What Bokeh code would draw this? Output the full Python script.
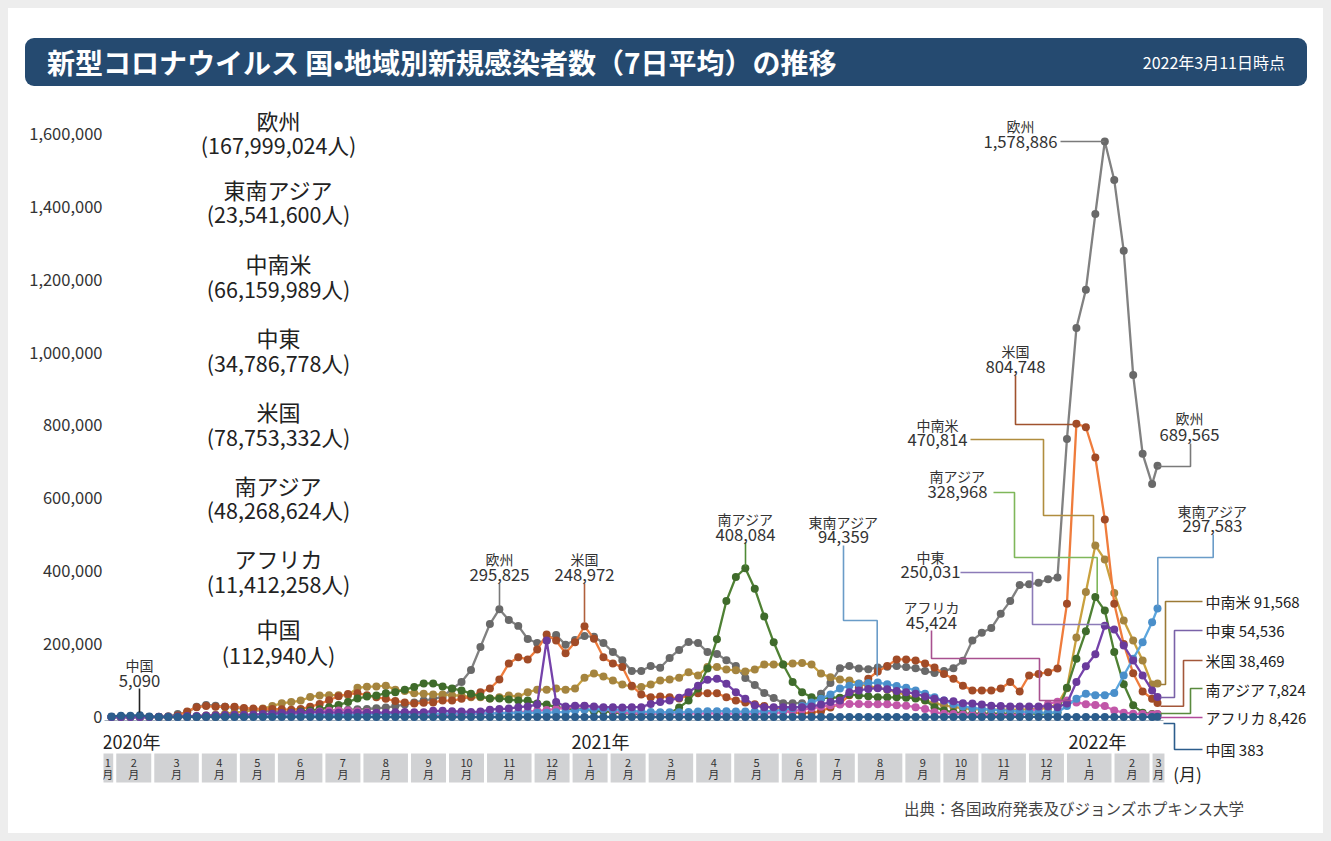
import pandas as pd
from bokeh.plotting import figure
from bokeh.models import Range1d, FixedTicker, Label, NumeralTickFormatter, Div
from bokeh.layouts import column
from bokeh.embed import file_html
from bokeh.resources import INLINE
from bokeh.core.properties import value

FONT = "Noto Sans CJK JP"

# ---------------- data (7-day average new cases, thousands of persons) ----------------
# weekly points (Mondays) from 2020-01-27 to 2022-03-07, plus the latest value on 2022-03-11
dates = list(pd.date_range("2020-01-27", "2022-03-07", freq="W-MON")) + [pd.Timestamp("2022-03-11")]

europe_k = [0, 0, 0, 0, 0.2,
            0.5, 2, 8, 13, 28,
            33, 31, 28, 26,
            22, 19, 17, 16,
            15, 15, 16, 17, 17,
            18, 19, 20, 21,
            22, 24, 26, 30, 34,
            40, 45, 50, 55,
            77, 96, 129, 192,
            255, 295.825, 266, 250, 214,
            203, 210, 225, 198,
            211, 222, 220, 203,
            178, 156, 126, 126,
            140, 135, 162, 184, 206,
            203, 178, 173, 156,
            140, 107, 88, 66, 52,
            38, 38, 38, 33,
            64, 93, 134, 140,
            133, 131, 136, 138, 140,
            137, 134, 126, 121,
            126, 134, 154, 210,
            231, 244, 283, 318, 362,
            364, 368, 378, 383,
            763, 1067, 1172, 1380, 1578.886,
            1473, 1279, 938, 722,
            639,
            689.565]

usa_k = [0, 0, 0, 0, 0,
         0.1, 0.5, 4, 15, 27,
         30, 28, 28, 28,
         25, 23, 22, 22,
         21, 20, 22, 28, 36,
         46, 57, 63, 65,
         60, 54, 50, 44, 40,
         37, 39, 40, 45,
         45, 50, 56, 68,
         78, 103, 147, 164, 158,
         185, 226, 210, 175,
         205, 248.972, 215, 164,
         147, 137, 86, 62,
         54, 56, 54, 51, 59,
         65, 65, 65, 54,
         45, 40, 35, 30, 25,
         18, 13, 10, 12,
         16, 26, 36, 60,
         80, 105, 125, 140, 158,
         158, 155, 147, 136,
         118, 105, 86, 73,
         73, 73, 78, 96, 70,
         114, 118, 123, 133,
         311, 804.748, 795, 712, 542,
         311, 200, 120, 70,
         50,
         38.469]

latam_k = [0, 0, 0, 0, 0,
           0, 0, 0.2, 1, 2,
           4, 6, 9, 12,
           15, 19, 23, 30,
           38, 41, 45, 55, 59,
           60, 60, 60, 80,
           83, 84, 86, 75, 71,
           65, 64, 62, 62,
           59, 59, 54, 54,
           51, 54, 59, 56, 68,
           75, 75, 78, 75,
           78, 108, 119, 111,
           100, 89, 84, 82,
           89, 100, 103, 108, 123,
           114, 137, 137, 130,
           128, 125, 130, 144, 144,
           144, 147, 148, 144,
           119, 109, 103, 100,
           92, 85, 80, 75, 68,
           60, 52, 45, 38,
           32, 28, 24, 22,
           20, 20, 20, 20, 20,
           21, 22, 25, 35,
           79, 218, 343, 470.814, 432,
           340, 265, 210, 155,
           89,
           91.568]

south_asia_k = [0, 0, 0, 0, 0,
                0, 0, 0, 0.1, 0.3,
                0.7, 1, 1.5, 2,
                3, 4, 5.5, 7,
                9, 12, 15, 18, 21,
                27, 33, 41, 51,
                56, 59, 65, 68, 75,
                82, 92, 92, 84,
                78, 73, 64, 56,
                51, 51, 48, 45, 45,
                37, 34, 27, 24,
                21, 21, 16, 16,
                13, 10, 9.6, 7,
                10, 10, 10, 26, 45,
                78, 133, 213, 318,
                384, 408.084, 352, 276, 205,
                144, 96, 68, 54,
                51, 54, 53, 62,
                59, 57, 54, 54, 54,
                53, 51, 46, 27,
                18, 13, 10, 9,
                9, 9, 9, 9, 9,
                9, 9, 10, 12,
                80, 160, 235, 328.968, 292,
                178, 90, 32, 12,
                8,
                7.824]

mideast_k = [0, 0, 0, 0, 0,
             0.5, 1, 1.5, 2.5, 3,
             4, 5, 5.5, 6,
             6, 7, 8, 9,
             11, 12, 13, 13, 13,
             12, 12, 12, 12,
             12, 12, 12, 13, 14,
             13, 13, 17, 17,
             16, 15, 14, 15,
             20, 22, 23, 27, 29,
             34, 210, 41, 29,
             31, 31, 29, 27,
             27, 26, 27, 27,
             36, 41, 45, 53, 68,
             86, 102, 105, 91,
             68, 50, 32, 27, 27,
             27, 27, 27, 29,
             34, 41, 45, 68,
             73, 77, 79, 76, 71,
             68, 64, 56, 50,
             45, 43, 38, 37,
             34, 31, 30, 29, 29,
             29, 29, 29, 27,
             37, 96, 139, 172, 250.031,
             240, 196, 155, 114,
             73,
             54.536]

se_asia_k = [0, 0, 0, 0, 0,
             0, 0.1, 0.3, 0.8, 1.5,
             2, 2, 2, 2,
             2.5, 2.5, 3, 3,
             3.5, 4, 4, 4.5, 5,
             5, 5, 6, 6,
             7, 8, 8, 8, 8,
             9, 9, 9, 9,
             10, 10, 10, 10,
             10, 10, 11, 11, 11,
             12, 12, 13, 14,
             18, 20, 21, 22,
             21, 19, 17, 15,
             14, 13, 13, 13, 14,
             15, 16, 16, 16,
             15, 15, 15, 16, 17,
             20, 24, 30, 40,
             50, 62, 78, 86,
             91, 93, 94.359, 90, 85,
             80, 73, 64, 54,
             45, 36, 29, 25,
             22, 20, 18, 17, 15,
             13, 12, 12, 13,
             30, 50, 64, 60, 60,
             66, 114, 160, 205,
             260,
             297.583]

africa_k = [0, 0, 0, 0, 0,
            0, 0, 0.1, 0.3, 0.8,
            1, 1.5, 2, 2.5,
            3, 3.5, 4, 5,
            6, 8, 10, 13, 15,
            17, 18, 18, 16,
            14, 12, 10, 8, 7,
            7, 6, 6, 6,
            6, 7, 8, 9,
            10, 11, 12, 13, 15,
            17, 19, 22, 25,
            28, 30, 27, 22,
            17, 13, 11, 10,
            10, 10, 10, 10, 10,
            10, 10, 10, 9,
            9, 9, 9, 10, 11,
            13, 16, 20, 24,
            28, 32, 34, 36,
            36, 35, 35, 35, 32,
            31, 27, 22, 13,
            9, 8, 7, 6,
            6, 5, 5, 5, 7,
            12, 25, 36, 42,
            45.424, 40, 35, 33, 30,
            18, 12, 9, 8,
            7,
            8.426]

china_k = [1.5, 3.5, 3.6, 5.09, 1.2,
           0.3, 0.05, 0.03, 0.08, 0.05,
           0.08, 0.05, 0.02, 0.01,
           0.01, 0.01, 0.01, 0.01,
           0.01, 0.03, 0.02, 0.02, 0.01,
           0.01, 0.02, 0.05, 0.06,
           0.04, 0.03, 0.02, 0.02, 0.01,
           0.01, 0.01, 0.01, 0.01,
           0.02, 0.02, 0.02, 0.02,
           0.02, 0.02, 0.02, 0.02, 0.02,
           0.02, 0.02, 0.02, 0.03,
           0.05, 0.1, 0.12, 0.08,
           0.03, 0.01, 0.01, 0.01,
           0.01, 0.01, 0.01, 0.01, 0.02,
           0.02, 0.02, 0.02, 0.02,
           0.02, 0.02, 0.02, 0.02, 0.02,
           0.02, 0.03, 0.03, 0.03,
           0.03, 0.05, 0.08, 0.1,
           0.1, 0.08, 0.05, 0.03, 0.03,
           0.04, 0.05, 0.05, 0.04,
           0.03, 0.04, 0.04, 0.06,
           0.07, 0.06, 0.05, 0.06, 0.08,
           0.1, 0.12, 0.1, 0.09,
           0.12, 0.15, 0.1, 0.08, 0.07,
           0.07, 0.1, 0.15, 0.2,
           0.3,
           0.383]

legend_names = ["欧州", "東南アジア", "中南米", "中東", "米国", "南アジア", "アフリカ", "中国"]
legend_totals = ["(167,999,024人)", "(23,541,600人)", "(66,159,989人)", "(34,786,778人)",
                 "(78,753,332人)", "(48,268,624人)", "(11,412,258人)", "(112,940人)"]

y_ticks = [0, 200000, 400000, 600000, 800000, 1000000, 1200000, 1400000, 1600000]

# name, values, line colour, dot colour  (drawing order bottom -> top)
series = [
    ("欧州", europe_k, "#818181", "#696969"),
    ("中南米", latam_k, "#c9a13e", "#a4843f"),
    ("米国", usa_k, "#ef7c3c", "#a14b27"),
    ("南アジア", south_asia_k, "#4f8134", "#3f6b2b"),
    ("アフリカ", africa_k, "#d462b8", "#c157a8"),
    ("東南アジア", se_asia_k, "#5ca6de", "#4a8fca"),
    ("中東", mideast_k, "#7542aa", "#6a3a9c"),
    ("中国", china_k, "#2c5d8c", "#2c5d8c"),
]
for _n, _v, _c1, _c2 in series:
    assert len(_v) == len(dates), (_n, len(_v))

xw = [(d - dates[0]).days / 7.0 for d in dates]

# ---------------- layout helpers (page pixel -> data) ----------------
PX0, PXW = 111.0, 9.46
PY0 = 716.5
PPP = 1600000.0 / (716.5 - 133.3)   # persons per pixel


def X(px):
    return (px - PX0) / PXW


def Y(py):
    return (PY0 - py) * PPP


W = 1315
HEAD_H = 92
MAIN_H = 825 - HEAD_H
TOP = 8 + HEAD_H
LEFT = 95


def txt(fig, x, y, texts, size, color="#222222", align="center", baseline="middle", style="normal"):
    fig.text(x=x, y=y, text=texts, text_font=value(FONT), text_font_size=value(size),
             text_color=color, text_align=align, text_baseline=baseline,
             text_font_style=style)


# ---------------- header (title bar) ----------------
header_html = (
    '<div style="background:#ffffff;width:1315px;height:92px;box-sizing:border-box;'
    'padding-left:17px;padding-top:30px;">'
    '<div style="width:1282px;height:48px;background:#254a70;border-radius:9px;'
    'display:flex;align-items:center;justify-content:space-between;box-sizing:border-box;'
    "padding:0 22px 0 22px;font-family:'Noto Sans CJK JP',sans-serif;color:#ffffff;\">"
    '<span style="font-size:28px;font-weight:700;line-height:1;white-space:nowrap;">'
    '新型コロナウイルス 国•地域別新規感染者数（7日平均）の推移</span>'
    '<span style="font-size:16px;line-height:1;white-space:nowrap;">2022年3月11日時点</span>'
    '</div></div>'
)
h = Div(text=header_html, width=W, height=HEAD_H, margin=(0, 0, 0, 0),
        styles={"background-color": "#ffffff"})

# ---------------- main chart ----------------
p = figure(width=W, height=MAIN_H,
           x_range=Range1d(X(8 + LEFT), X(8 + W)),
           y_range=Range1d(Y(8 + 825), Y(TOP)),
           output_backend="svg", toolbar_location=None, x_axis_location=None,
           min_border_left=LEFT, min_border_right=0, min_border_top=0, min_border_bottom=0,
           outline_line_color=None, margin=(0, 0, 0, 0),
           background_fill_color=None, border_fill_color=None,
           styles={"background-color": "#ffffff"})
p.grid.visible = False
ax = p.yaxis[0]
ax.ticker = FixedTicker(ticks=y_ticks)
ax.formatter = NumeralTickFormatter(format="0,0")
ax.axis_line_color = None
ax.major_tick_line_color = None
ax.minor_tick_line_color = None
ax.major_tick_out = 0
ax.major_tick_in = 0
ax.major_label_standoff = 1
ax.major_label_text_font = FONT
ax.major_label_text_font_size = "16.5px"
ax.major_label_text_color = "#333333"

p.add_layout(Label(x=X(25), y=Y(110), text="(人)", text_font=FONT, text_font_size="15px",
                   text_color="#333333", text_baseline="middle", text_align="left"))

# month boxes
groups = []
for xv, d in zip(xw, dates):
    key = (d.year, d.month)
    if groups and groups[-1][0] == key:
        groups[-1][2] = xv
    else:
        groups.append([key, xv, xv])
S, SH, G = 1.005, -0.16, 0.16
bl = [(g[1] - 0.5) * S + SH + G for g in groups]
br = [(g[2] + 0.5) * S + SH - G for g in groups]
bl[0] = bl[0] - 0.45
bc = [(a + b) / 2 for a, b in zip(bl, br)]
p.quad(left=bl, right=br, top=[Y(753)] * len(groups), bottom=[Y(782)] * len(groups),
       fill_color="#d1d2d4", line_color=None)
txt(p, bc, [Y(762)] * len(groups), [str(g[0][1]) for g in groups], "11px", color="#333333")
txt(p, bc, [Y(773.5)] * len(groups), ["月"] * len(groups), "11px", color="#333333")

# year labels, unit, source
txt(p, [X(102)], [Y(740)], ["2020年"], "18px", color="#222222", align="left")
txt(p, [X(600)], [Y(740)], ["2021年"], "18px", color="#222222")
txt(p, [X(1097)], [Y(740)], ["2022年"], "18px", color="#222222")
txt(p, [X(1187)], [Y(773)], ["(月)"], "17px", color="#222222")
txt(p, [X(1074)], [Y(807)], ["出典：各国政府発表及びジョンズホプキンス大学"], "15.5px", color="#444444")

# baseline
p.line([X(104), X(1163)], [Y(720), Y(720)], line_color="#a3b0bd", line_width=1)

# series
for name, vals, lc, dc in series:
    yv = [v * 1000 for v in vals]
    p.line(xw, yv, line_color=lc, line_width=2.3, line_join="round")
    p.scatter(xw, yv, size=8, fill_color=dc, line_color=None)

# callout lines (page pixels)
callouts = [
    ("#222222", [(139, 688), (139, 712)]),
    ("#7a7a7a", [(499, 583), (499, 606)]),
    ("#b0603c", [(584, 583), (584, 622)]),
    ("#4f8a35", [(745, 542), (745, 566)]),
    ("#6a9cc8", [(843, 545), (843, 620), (876.7, 620), (876.7, 676)]),
    ("#7a7a7a", [(1060, 141), (1104, 141)]),
    ("#a0522d", [(1015, 375), (1015, 424), (1075, 424)]),
    ("#b08d3e", [(970, 439), (1043, 439), (1043, 515), (1093, 515), (1093, 543)]),
    ("#7fb75a", [(993, 492), (1014, 492), (1014, 557), (1096.7, 557), (1096.7, 593)]),
    ("#8c7bb8", [(960, 572), (1032, 572), (1032, 624), (1106, 624)]),
    ("#a8508f", [(931, 630), (931, 658), (1039, 658), (1039, 700), (1070, 700)]),
    ("#7a7a7a", [(1190, 443), (1190, 466), (1157, 466)]),
    ("#6a9cc8", [(1212.7, 534), (1212.7, 557), (1157.3, 557), (1157.3, 606)]),
    ("#9c7a35", [(1160, 684), (1165, 684), (1165, 601), (1202, 601)]),
    ("#7a62a8", [(1160, 697), (1174, 697), (1174, 630), (1202, 630)]),
    ("#a3573a", [(1160, 705.7), (1183, 705.7), (1183, 660), (1202, 660)]),
    ("#5a8a3e", [(1160, 713), (1190, 713), (1190, 688), (1202, 688)]),
    ("#b24a9a", [(1160, 717), (1202, 717)]),
    ("#2c5d8c", [(1163, 723), (1174, 723), (1174, 749), (1202, 749)]),
]
for col, pts in callouts:
    p.line([X(a) for a, b in pts], [Y(b) for a, b in pts], line_color=col, line_width=1.6)


def fmt(v):
    return format(int(round(v * 1000)), ",")


# peak callout texts: name, value, centre x, name y, number y
peak_labels = [
    ("中国", fmt(china_k[3]), 139, 664, 680),
    ("欧州", fmt(europe_k[41]), 499, 558, 574),
    ("米国", fmt(usa_k[50]), 584, 558, 574),
    ("南アジア", fmt(south_asia_k[67]), 745, 518, 534),
    ("東南アジア", fmt(se_asia_k[81]), 843, 521, 536),
    ("欧州", fmt(europe_k[105]), 1020, 125, 141),
    ("米国", fmt(usa_k[102]), 1015, 350, 366),
    ("中南米", fmt(latam_k[104]), 937, 424, 439),
    ("南アジア", fmt(south_asia_k[104]), 957, 475, 491),
    ("中東", fmt(mideast_k[105]), 930, 556, 571),
    ("アフリカ", fmt(africa_k[101]), 931, 606, 622),
    ("欧州", fmt(europe_k[-1]), 1189, 417, 434),
    ("東南アジア", fmt(se_asia_k[-1]), 1212, 510, 525),
]
txt(p, [X(c[2]) for c in peak_labels], [Y(c[3]) for c in peak_labels],
    [c[0] for c in peak_labels], "14px", color="#333333")
txt(p, [X(c[2]) for c in peak_labels], [Y(c[4]) for c in peak_labels],
    [c[1] for c in peak_labels], "16.7px", color="#333333")

# latest values at right
end_labels = [("中南米", latam_k[-1], 601), ("中東", mideast_k[-1], 630), ("米国", usa_k[-1], 659.5),
              ("南アジア", south_asia_k[-1], 688.5), ("アフリカ", africa_k[-1], 717),
              ("中国", china_k[-1], 748.5)]
txt(p, [X(1205)] * len(end_labels), [Y(e[2]) for e in end_labels],
    [f"{e[0]} {fmt(e[1])}" for e in end_labels], "15px", color="#222222", align="left")

# totals block
ny = [119, 188, 262, 336, 410, 484, 557, 627]
ty = [144, 213, 288, 362, 436, 509, 583, 654]
txt(p, [X(278)] * 8, [Y(v) for v in ny], legend_names, "22px", color="#222222")
txt(p, [X(278)] * 8, [Y(v) for v in ty], legend_totals, "21.5px", color="#222222")

layout = column(h, p, spacing=0)
html = file_html(layout, INLINE, title="covid")
html = html.replace("</head>",
                    "<style>html body{margin:8px !important;background-color:#ededed !important;}</style></head>", 1)
open("out.html", "w").write(html)
